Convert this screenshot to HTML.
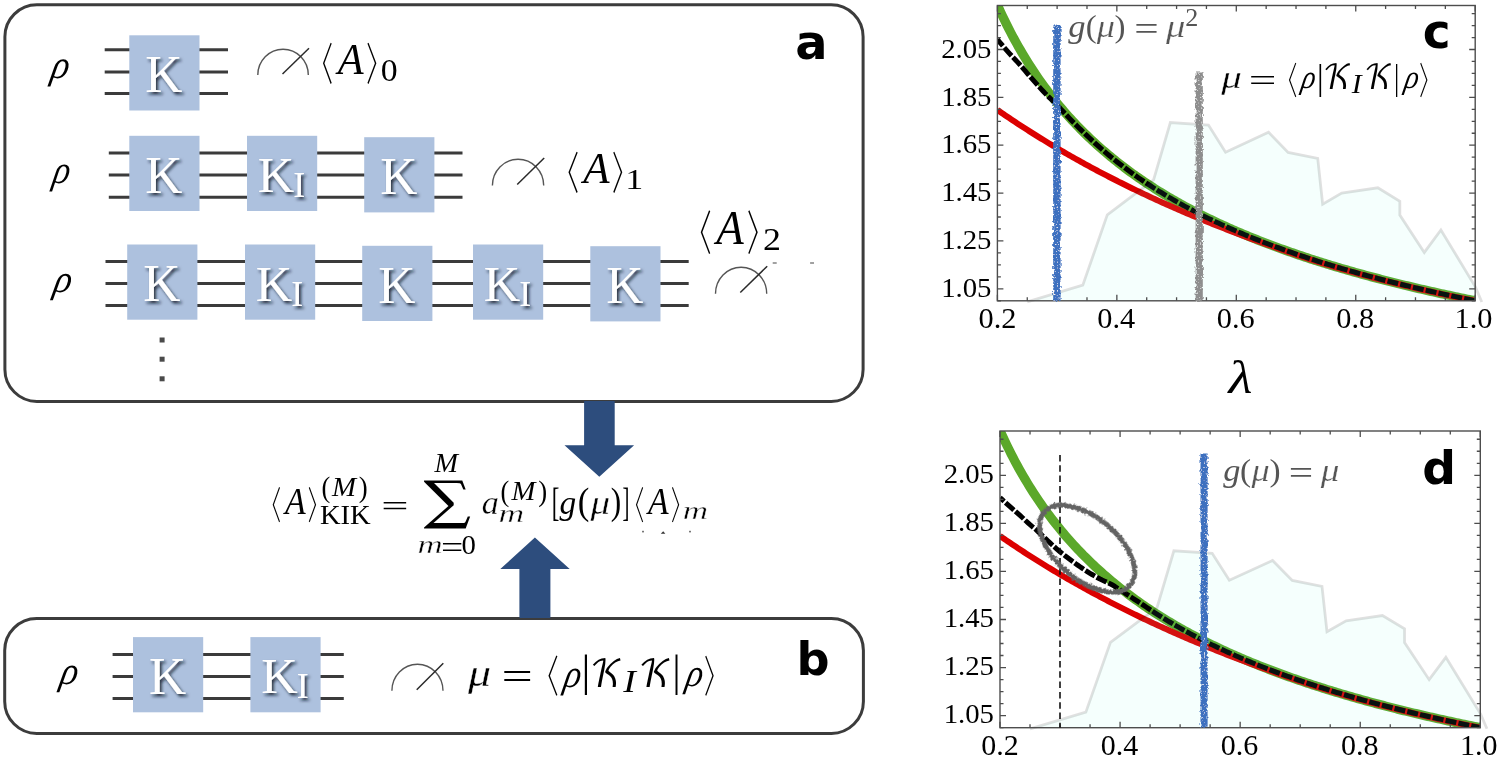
<!DOCTYPE html>
<html><head><meta charset="utf-8"><title>KIK figure</title>
<style>
html,body{margin:0;padding:0;background:#fff;}
body{width:1500px;height:758px;overflow:hidden;}
svg{display:block;}
</style></head>
<body>
<svg width="1500" height="758" viewBox="0 0 1500 758">
<defs>
<filter id="sh" x="-30%" y="-30%" width="160%" height="160%">
<feDropShadow dx="2.0" dy="2.4" stdDeviation="1.4" flood-color="#101828" flood-opacity="0.85"/>
</filter>
<filter id="rough" x="-50%" y="-2%" width="200%" height="104%">
<feTurbulence type="fractalNoise" baseFrequency="0.45 0.3" numOctaves="3" seed="3" result="n"/>
<feDisplacementMap in="SourceGraphic" in2="n" scale="4.5" xChannelSelector="R" yChannelSelector="G" result="d"/>
<feTurbulence type="fractalNoise" baseFrequency="0.7" numOctaves="1" seed="11" result="n2"/>
<feColorMatrix in="n2" type="matrix" values="0 0 0 0 1  0 0 0 0 1  0 0 0 0 1  5 0 0 0 -3.1" result="m"/>
<feComposite in="m" in2="d" operator="in" result="spots"/>
<feMerge><feMergeNode in="d"/><feMergeNode in="spots"/></feMerge>
</filter>
<filter id="rough2" x="-10%" y="-10%" width="120%" height="120%">
<feTurbulence type="fractalNoise" baseFrequency="0.5" numOctaves="3" seed="5"/>
<feDisplacementMap in="SourceGraphic" scale="4" xChannelSelector="R" yChannelSelector="G"/>
</filter>
<clipPath id="clipc"><rect x="997.4" y="5.5" width="477.8" height="295.3"/></clipPath>
<clipPath id="clipd"><rect x="1000" y="431" width="480.4" height="296.7"/></clipPath>
</defs>
<rect width="1500" height="758" fill="#fff"/>
<rect x="4.9" y="4.7" width="858.20" height="396.70" rx="32" ry="32" fill="none" stroke="#3c3c3c" stroke-width="3.0"/>
<rect x="4.7" y="618.5" width="858.70" height="114.90" rx="32" ry="32" fill="none" stroke="#3c3c3c" stroke-width="3.0"/>
<line x1="104.7" y1="49.7" x2="228" y2="49.7" stroke="#3b3b3b" stroke-width="3.0"/>
<line x1="104.7" y1="71.9" x2="228" y2="71.9" stroke="#3b3b3b" stroke-width="3.0"/>
<line x1="104.7" y1="93.5" x2="228" y2="93.5" stroke="#3b3b3b" stroke-width="3.0"/>
<line x1="108.8" y1="153.0" x2="462.5" y2="153.0" stroke="#3b3b3b" stroke-width="3.0"/>
<line x1="108.8" y1="174.9" x2="462.5" y2="174.9" stroke="#3b3b3b" stroke-width="3.0"/>
<line x1="108.8" y1="197.2" x2="462.5" y2="197.2" stroke="#3b3b3b" stroke-width="3.0"/>
<line x1="105.5" y1="261.5" x2="688.7" y2="261.5" stroke="#3b3b3b" stroke-width="3.0"/>
<line x1="105.5" y1="283.5" x2="688.7" y2="283.5" stroke="#3b3b3b" stroke-width="3.0"/>
<line x1="105.5" y1="305.5" x2="688.7" y2="305.5" stroke="#3b3b3b" stroke-width="3.0"/>
<line x1="112.6" y1="654.4" x2="343.8" y2="654.4" stroke="#3b3b3b" stroke-width="3.0"/>
<line x1="112.6" y1="676.4" x2="343.8" y2="676.4" stroke="#3b3b3b" stroke-width="3.0"/>
<line x1="112.6" y1="698.5" x2="343.8" y2="698.5" stroke="#3b3b3b" stroke-width="3.0"/>
<rect x="129.3" y="35.3" width="70.2" height="75.2" fill="#adc1de"/>
<rect x="129.3" y="135.8" width="70.2" height="75.2" fill="#adc1de"/>
<rect x="364.2" y="137.2" width="70.2" height="75.2" fill="#adc1de"/>
<rect x="127.2" y="244.5" width="70.2" height="75.2" fill="#adc1de"/>
<rect x="362.2" y="245.8" width="70.2" height="75.2" fill="#adc1de"/>
<rect x="590.3" y="246.2" width="70.2" height="75.2" fill="#adc1de"/>
<rect x="133" y="637.1" width="70.2" height="75.2" fill="#adc1de"/>
<rect x="247" y="135.8" width="70.2" height="75.2" fill="#adc1de"/>
<rect x="245" y="244.5" width="70.2" height="75.2" fill="#adc1de"/>
<rect x="473" y="244.5" width="70.2" height="75.2" fill="#adc1de"/>
<rect x="250.4" y="637.1" width="70.2" height="75.2" fill="#adc1de"/>
<path d="M257.8,75 A25.25,25.80 0 0 1 308.3,75" fill="none" stroke="#555" stroke-width="1.4"/>
<line x1="282.5" y1="74" x2="309" y2="48.3" stroke="#2a2a2a" stroke-width="1.5"/>
<path d="M492.4,185.5 A25.65,26.30 0 0 1 543.7,185.5" fill="none" stroke="#555" stroke-width="1.4"/>
<line x1="517.2" y1="184.5" x2="544.2" y2="158" stroke="#2a2a2a" stroke-width="1.5"/>
<path d="M715.5,293.7 A25.60,26.50 0 0 1 766.7,293.7" fill="none" stroke="#555" stroke-width="1.4"/>
<line x1="740.3" y1="292.5" x2="767.2" y2="266.2" stroke="#2a2a2a" stroke-width="1.5"/>
<path d="M391.9,690.8 A25.55,26.60 0 0 1 443,690.8" fill="none" stroke="#555" stroke-width="1.4"/>
<line x1="416.7" y1="689.7" x2="443.3" y2="663.3" stroke="#2a2a2a" stroke-width="1.5"/>
<rect x="159.6" y="337.5" width="5" height="5" fill="#4a4a4a"/>
<rect x="159.6" y="356.7" width="5" height="5" fill="#4a4a4a"/>
<rect x="159.6" y="376.3" width="5" height="5" fill="#4a4a4a"/>
<polygon points="584.1,401 614.7,401 614.7,445.2 634.1,445.2 599.3,476.7 564.5,445.2 584.1,445.2" fill="#2d4d7d"/>
<polygon points="519.4,618 550.4,618 550.4,569.1 569.7,569.1 534.9,537.5 500.3,569.1 519.4,569.1" fill="#2d4d7d"/>
<rect x="772.7" y="262.2" width="4" height="1.6" fill="#8a8a8a"/>
<rect x="810.1" y="262.2" width="3.9" height="1.6" fill="#8a8a8a"/>
<rect x="642" y="530.8" width="2" height="1.6" fill="#777"/>
<polygon points="660.8,533.8 665.3,533.8 663.2,531.2" fill="#333"/>
<rect x="689" y="530.8" width="2" height="1.6" fill="#777"/>
<g clip-path="url(#clipc)">
<path d="M994.41,-1.84 L996.42,2.76 L998.42,7.24 L1000.42,11.62 L1002.43,15.89 L1004.43,20.06 L1006.43,24.13 L1008.44,28.10 L1010.44,31.99 L1012.44,35.79 L1014.45,39.50 L1016.45,43.13 L1018.45,46.69 L1020.46,50.17 L1022.46,53.58 L1024.46,56.91 L1026.47,60.18 L1028.47,63.39 L1030.47,66.53 L1032.48,69.61 L1034.48,72.63 L1036.48,75.59 L1038.49,78.50 L1040.49,81.35 L1042.49,84.15 L1044.50,86.90 L1046.50,89.60 L1048.50,92.26 L1050.51,94.86 L1052.51,97.43 L1054.51,99.94 L1056.52,102.42 L1058.52,104.85 L1060.52,107.25 L1062.53,109.60 L1064.53,111.92 L1066.53,114.20 L1068.53,116.44 L1070.54,118.65 L1072.54,120.83 L1074.54,122.97 L1076.55,125.08 L1078.55,127.16 L1080.55,129.20 L1082.56,131.22 L1084.56,133.21 L1086.56,135.16 L1088.57,137.09 L1090.57,139.00 L1092.57,140.87 L1094.58,142.72 L1096.58,144.55 L1098.58,146.35 L1100.59,148.12 L1102.59,149.87 L1104.59,151.60 L1106.60,153.31 L1108.60,154.99 L1110.60,156.65 L1112.61,158.29 L1114.61,159.91 L1116.61,161.51 L1118.62,163.09 L1120.62,164.65 L1122.62,166.19 L1124.63,167.71 L1126.63,169.21 L1128.63,170.70 L1130.64,172.17 L1132.64,173.61 L1134.64,175.05 L1136.65,176.46 L1138.65,177.86 L1140.65,179.25 L1142.66,180.61 L1144.66,181.97 L1146.66,183.30 L1148.67,184.63 L1150.67,185.93 L1152.67,187.23 L1154.68,188.51 L1156.68,189.77 L1158.68,191.03 L1160.69,192.26 L1162.69,193.49 L1164.69,194.70 L1166.70,195.90 L1168.70,197.09 L1170.70,198.27 L1172.71,199.43 L1174.71,200.58 L1176.71,201.72 L1178.72,202.85 L1180.72,203.97 L1182.72,205.07 L1184.72,206.17 L1186.73,207.25 L1188.73,208.33 L1190.73,209.39 L1192.74,210.45 L1194.74,211.49 L1196.74,212.52 L1198.75,213.55 L1200.75,214.56 L1202.75,215.57 L1204.76,216.56 L1206.76,217.55 L1208.76,218.53 L1210.77,219.50 L1212.77,220.46 L1214.77,221.41 L1216.78,222.35 L1218.78,223.29 L1220.78,224.22 L1222.79,225.14 L1224.79,226.05 L1226.79,226.95 L1228.80,227.84 L1230.80,228.73 L1232.80,229.61 L1234.81,230.48 L1236.81,231.35 L1238.81,232.21 L1240.82,233.06 L1242.82,233.90 L1244.82,234.74 L1246.83,235.57 L1248.83,236.39 L1250.83,237.21 L1252.84,238.02 L1254.84,238.82 L1256.84,239.62 L1258.85,240.41 L1260.85,241.20 L1262.85,241.98 L1264.86,242.75 L1266.86,243.52 L1268.86,244.28 L1270.87,245.03 L1272.87,245.78 L1274.87,246.52 L1276.88,247.26 L1278.88,247.99 L1280.88,248.72 L1282.89,249.44 L1284.89,250.16 L1286.89,250.87 L1288.90,251.58 L1290.90,252.28 L1292.90,252.97 L1294.91,253.66 L1296.91,254.35 L1298.91,255.03 L1300.91,255.70 L1302.92,256.38 L1304.92,257.04 L1306.92,257.70 L1308.93,258.36 L1310.93,259.01 L1312.93,259.66 L1314.94,260.30 L1316.94,260.94 L1318.94,261.58 L1320.95,262.21 L1322.95,262.83 L1324.95,263.46 L1326.96,264.07 L1328.96,264.69 L1330.96,265.30 L1332.97,265.90 L1334.97,266.50 L1336.97,267.10 L1338.98,267.70 L1340.98,268.29 L1342.98,268.87 L1344.99,269.45 L1346.99,270.03 L1348.99,270.61 L1351.00,271.18 L1353.00,271.75 L1355.00,272.31 L1357.01,272.87 L1359.01,273.43 L1361.01,273.98 L1363.02,274.53 L1365.02,275.08 L1367.02,275.62 L1369.03,276.16 L1371.03,276.70 L1373.03,277.23 L1375.04,277.76 L1377.04,278.29 L1379.04,278.81 L1381.05,279.33 L1383.05,279.85 L1385.05,280.36 L1387.06,280.88 L1389.06,281.38 L1391.06,281.89 L1393.07,282.39 L1395.07,282.89 L1397.07,283.39 L1399.08,283.88 L1401.08,284.37 L1403.08,284.86 L1405.09,285.35 L1407.09,285.83 L1409.09,286.31 L1411.10,286.79 L1413.10,287.26 L1415.10,287.73 L1417.10,288.20 L1419.11,288.67 L1421.11,289.13 L1423.11,289.59 L1425.12,290.05 L1427.12,290.51 L1429.12,290.96 L1431.13,291.42 L1433.13,291.86 L1435.13,292.31 L1437.14,292.75 L1439.14,293.20 L1441.14,293.64 L1443.15,294.07 L1445.15,294.51 L1447.15,294.94 L1449.16,295.37 L1451.16,295.80 L1453.16,296.22 L1455.17,296.65 L1457.17,297.07 L1459.17,297.49 L1461.18,297.91 L1463.18,298.32 L1465.18,298.73 L1467.19,299.14 L1469.19,299.55 L1471.19,299.96 L1473.20,300.36 L1475.20,300.76" fill="none" stroke="#5ba82a" stroke-width="9.2"/>
<path d="M997.40,109.95 L999.39,111.33 L1001.38,112.70 L1003.37,114.06 L1005.36,115.41 L1007.35,116.76 L1009.35,118.10 L1011.34,119.44 L1013.33,120.76 L1015.32,122.08 L1017.31,123.39 L1019.30,124.70 L1021.29,125.99 L1023.28,127.28 L1025.27,128.57 L1027.26,129.84 L1029.25,131.11 L1031.24,132.37 L1033.23,133.63 L1035.23,134.88 L1037.22,136.12 L1039.21,137.36 L1041.20,138.59 L1043.19,139.81 L1045.18,141.02 L1047.17,142.23 L1049.16,143.44 L1051.15,144.63 L1053.14,145.82 L1055.13,147.01 L1057.12,148.18 L1059.12,149.35 L1061.11,150.52 L1063.10,151.68 L1065.09,152.83 L1067.08,153.98 L1069.07,155.12 L1071.06,156.25 L1073.05,157.38 L1075.04,158.51 L1077.03,159.62 L1079.02,160.73 L1081.01,161.84 L1083.01,162.94 L1085.00,164.03 L1086.99,165.12 L1088.98,166.21 L1090.97,167.28 L1092.96,168.36 L1094.95,169.42 L1096.94,170.48 L1098.93,171.54 L1100.92,172.59 L1102.91,173.63 L1104.90,174.67 L1106.90,175.71 L1108.89,176.74 L1110.88,177.76 L1112.87,178.78 L1114.86,179.79 L1116.85,180.80 L1118.84,181.81 L1120.83,182.80 L1122.82,183.80 L1124.81,184.79 L1126.80,185.77 L1128.80,186.75 L1130.79,187.72 L1132.78,188.69 L1134.77,189.66 L1136.76,190.62 L1138.75,191.57 L1140.74,192.52 L1142.73,193.47 L1144.72,194.41 L1146.71,195.34 L1148.70,196.27 L1150.69,197.20 L1152.68,198.12 L1154.68,199.04 L1156.67,199.96 L1158.66,200.87 L1160.65,201.77 L1162.64,202.67 L1164.63,203.57 L1166.62,204.46 L1168.61,205.35 L1170.60,206.23 L1172.59,207.11 L1174.58,207.98 L1176.58,208.86 L1178.57,209.72 L1180.56,210.59 L1182.55,211.44 L1184.54,212.30 L1186.53,213.15 L1188.52,213.99 L1190.51,214.84 L1192.50,215.68 L1194.49,216.51 L1196.48,217.34 L1198.47,218.17 L1200.46,218.99 L1202.46,219.81 L1204.45,220.62 L1206.44,221.44 L1208.43,222.24 L1210.42,223.05 L1212.41,223.85 L1214.40,224.64 L1216.39,225.43 L1218.38,226.22 L1220.37,227.01 L1222.36,227.79 L1224.36,228.57 L1226.35,229.34 L1228.34,230.11 L1230.33,230.88 L1232.32,231.64 L1234.31,232.40 L1236.30,233.16 L1238.29,233.91 L1240.28,234.66 L1242.27,235.41 L1244.26,236.15 L1246.25,236.89 L1248.25,237.63 L1250.24,238.36 L1252.23,239.09 L1254.22,239.81 L1256.21,240.53 L1258.20,241.25 L1260.19,241.97 L1262.18,242.68 L1264.17,243.39 L1266.16,244.09 L1268.15,244.80 L1270.14,245.50 L1272.13,246.22 L1274.13,246.95 L1276.12,247.68 L1278.11,248.40 L1280.10,249.12 L1282.09,249.83 L1284.08,250.54 L1286.07,251.24 L1288.06,251.94 L1290.05,252.63 L1292.04,253.32 L1294.03,254.00 L1296.02,254.67 L1298.02,255.35 L1300.01,256.01 L1302.00,256.68 L1303.99,257.33 L1305.98,257.99 L1307.97,258.63 L1309.96,259.28 L1311.95,259.92 L1313.94,260.55 L1315.93,261.18 L1317.92,261.81 L1319.91,262.43 L1321.91,263.05 L1323.90,263.66 L1325.89,264.27 L1327.88,264.87 L1329.87,265.47 L1331.86,266.07 L1333.85,266.66 L1335.84,267.25 L1337.83,267.84 L1339.82,268.42 L1341.81,269.00 L1343.81,269.57 L1345.80,270.14 L1347.79,270.71 L1349.78,271.27 L1351.77,271.83 L1353.76,272.39 L1355.75,272.94 L1357.74,273.49 L1359.73,274.03 L1361.72,274.57 L1363.71,275.11 L1365.70,275.65 L1367.70,276.18 L1369.69,276.71 L1371.68,277.23 L1373.67,277.76 L1375.66,278.27 L1377.65,278.79 L1379.64,279.30 L1381.63,279.81 L1383.62,280.32 L1385.61,280.82 L1387.60,281.32 L1389.59,281.82 L1391.59,282.31 L1393.58,282.81 L1395.57,283.29 L1397.56,283.78 L1399.55,284.26 L1401.54,284.74 L1403.53,285.23 L1405.52,285.72 L1407.51,286.20 L1409.50,286.69 L1411.49,287.17 L1413.48,287.64 L1415.47,288.12 L1417.47,288.58 L1419.46,289.05 L1421.45,289.51 L1423.44,289.97 L1425.43,290.43 L1427.42,290.89 L1429.41,291.34 L1431.40,291.78 L1433.39,292.23 L1435.38,292.67 L1437.37,293.10 L1439.37,293.54 L1441.36,293.97 L1443.35,294.40 L1445.34,294.82 L1447.33,295.24 L1449.32,295.66 L1451.31,296.07 L1453.30,296.48 L1455.29,296.89 L1457.28,297.29 L1459.27,297.69 L1461.26,298.09 L1463.26,298.48 L1465.25,298.87 L1467.24,299.26 L1469.23,299.64 L1471.22,300.02 L1473.21,300.39 L1475.20,300.76" fill="none" stroke="#dc0000" stroke-width="6"/>
<path d="M997.40,39.45 L999.39,41.84 L1001.38,44.18 L1003.37,46.49 L1005.36,48.77 L1007.35,51.05 L1009.35,53.30 L1011.34,55.48 L1013.33,57.61 L1015.32,59.73 L1017.31,61.86 L1019.30,64.04 L1021.29,66.28 L1023.28,68.59 L1025.27,70.92 L1027.26,73.26 L1029.25,75.59 L1031.24,77.90 L1033.23,80.18 L1035.23,82.43 L1037.22,84.66 L1039.21,86.88 L1041.20,89.07 L1043.19,91.22 L1045.18,93.34 L1047.17,95.40 L1049.16,97.37 L1051.15,99.22 L1053.14,101.03 L1055.13,102.93 L1057.12,105.02 L1059.12,107.23 L1061.11,109.41 L1063.10,111.56 L1065.09,113.69 L1067.08,115.79 L1069.07,117.86 L1071.06,119.92 L1073.05,121.95 L1075.04,123.96 L1077.03,125.95 L1079.02,127.92 L1081.01,129.88 L1083.01,131.81 L1085.00,133.73 L1086.99,135.63 L1088.98,137.51 L1090.97,139.38 L1092.96,141.23 L1094.95,143.07 L1096.94,144.87 L1098.93,146.66 L1100.92,148.42 L1102.91,150.16 L1104.90,151.87 L1106.90,153.56 L1108.89,155.23 L1110.88,156.88 L1112.87,158.51 L1114.86,160.11 L1116.85,161.70 L1118.84,163.27 L1120.83,164.81 L1122.82,166.34 L1124.81,167.85 L1126.80,169.34 L1128.80,170.82 L1130.79,172.27 L1132.78,173.71 L1134.77,175.14 L1136.76,176.54 L1138.75,177.93 L1140.74,179.31 L1142.73,180.67 L1144.72,182.01 L1146.71,183.34 L1148.70,184.65 L1150.69,185.95 L1152.68,187.24 L1154.68,188.51 L1156.67,189.77 L1158.66,191.01 L1160.65,192.24 L1162.64,193.46 L1164.63,194.67 L1166.62,195.86 L1168.61,197.04 L1170.60,198.21 L1172.59,199.36 L1174.58,200.51 L1176.58,201.64 L1178.57,202.77 L1180.56,203.88 L1182.55,204.98 L1184.54,206.07 L1186.53,207.15 L1188.52,208.22 L1190.51,209.27 L1192.50,210.32 L1194.49,211.36 L1196.48,212.39 L1198.47,213.41 L1200.46,214.42 L1202.46,215.42 L1204.45,216.41 L1206.44,217.39 L1208.43,218.37 L1210.42,219.33 L1212.41,220.29 L1214.40,221.23 L1216.39,222.17 L1218.38,223.10 L1220.37,224.03 L1222.36,224.94 L1224.36,225.85 L1226.35,226.75 L1228.34,227.64 L1230.33,228.52 L1232.32,229.40 L1234.31,230.27 L1236.30,231.13 L1238.29,231.98 L1240.28,232.83 L1242.27,233.67 L1244.26,234.51 L1246.25,235.33 L1248.25,236.15 L1250.24,236.97 L1252.23,237.77 L1254.22,238.58 L1256.21,239.37 L1258.20,240.16 L1260.19,240.94 L1262.18,241.72 L1264.17,242.49 L1266.16,243.25 L1268.15,244.01 L1270.14,244.76 L1272.13,245.51 L1274.13,246.25 L1276.12,246.98 L1278.11,247.71 L1280.10,248.44 L1282.09,249.16 L1284.08,249.87 L1286.07,250.58 L1288.06,251.28 L1290.05,251.98 L1292.04,252.67 L1294.03,253.36 L1296.02,254.05 L1298.02,254.73 L1300.01,255.40 L1302.00,256.07 L1303.99,256.73 L1305.98,257.39 L1307.97,258.05 L1309.96,258.70 L1311.95,259.34 L1313.94,259.99 L1315.93,260.62 L1317.92,261.26 L1319.91,261.88 L1321.91,262.51 L1323.90,263.13 L1325.89,263.75 L1327.88,264.36 L1329.87,264.97 L1331.86,265.57 L1333.85,266.17 L1335.84,266.77 L1337.83,267.36 L1339.82,267.95 L1341.81,268.53 L1343.81,269.11 L1345.80,269.69 L1347.79,270.26 L1349.78,270.83 L1351.77,271.40 L1353.76,271.96 L1355.75,272.52 L1357.74,273.08 L1359.73,273.63 L1361.72,274.18 L1363.71,274.72 L1365.70,275.26 L1367.70,275.80 L1369.69,276.34 L1371.68,276.87 L1373.67,277.40 L1375.66,277.92 L1377.65,278.45 L1379.64,278.97 L1381.63,279.48 L1383.62,280.00 L1385.61,280.51 L1387.60,281.02 L1389.59,281.52 L1391.59,282.02 L1393.58,282.52 L1395.57,283.02 L1397.56,283.51 L1399.55,284.00 L1401.54,284.49 L1403.53,284.97 L1405.52,285.45 L1407.51,285.93 L1409.50,286.41 L1411.49,286.88 L1413.48,287.35 L1415.47,287.82 L1417.47,288.29 L1419.46,288.75 L1421.45,289.21 L1423.44,289.67 L1425.43,290.12 L1427.42,290.58 L1429.41,291.03 L1431.40,291.48 L1433.39,291.92 L1435.38,292.37 L1437.37,292.81 L1439.37,293.25 L1441.36,293.68 L1443.35,294.12 L1445.34,294.55 L1447.33,294.98 L1449.32,295.41 L1451.31,295.83 L1453.30,296.25 L1455.29,296.67 L1457.28,297.09 L1459.27,297.51 L1461.26,297.92 L1463.26,298.34 L1465.25,298.75 L1467.24,299.15 L1469.23,299.56 L1471.22,299.96 L1473.21,300.37 L1475.20,300.76" fill="none" stroke="#000" stroke-width="5.0" stroke-dasharray="11 2.1" stroke-dashoffset="2.5"/>
<polygon points="1027.26,301.96 1082.81,285.21 1107.29,214.86 1153.58,179.92 1170.36,122.49 1208.47,125.12 1225.55,152.16 1268.55,132.30 1288.14,152.40 1317.71,158.38 1322.66,204.09 1341.71,193.08 1377.85,187.82 1399.83,201.22 1399.83,215.10 1424.31,252.43 1440.92,229.93 1475.50,287.12 1481.77,301.96" fill="rgb(112,255,226)" fill-opacity="0.07" stroke="none"/>
</g>
<polyline points="1027.26,301.96 1082.81,285.21 1107.29,214.86 1153.58,179.92 1170.36,122.49 1208.47,125.12 1225.55,152.16 1268.55,132.30 1288.14,152.40 1317.71,158.38 1322.66,204.09 1341.71,193.08 1377.85,187.82 1399.83,201.22 1399.83,215.10 1424.31,252.43 1440.92,229.93 1475.50,287.12 1481.77,301.96" fill="none" stroke="#000" stroke-opacity="0.12" stroke-width="2.8" stroke-linejoin="miter"/>
<rect x="997.4" y="5.5" width="477.80000000000007" height="295.3" fill="none" stroke="#4d4d4d" stroke-width="1.4"/>
<path d="M997.40,300.8v-6M997.40,5.5v6M1027.26,300.8v-3.5M1027.26,5.5v3.5M1057.12,300.8v-3.5M1057.12,5.5v3.5M1086.99,300.8v-3.5M1086.99,5.5v3.5M1116.85,300.8v-6M1116.85,5.5v6M1146.71,300.8v-3.5M1146.71,5.5v3.5M1176.58,300.8v-3.5M1176.58,5.5v3.5M1206.44,300.8v-3.5M1206.44,5.5v3.5M1236.30,300.8v-6M1236.30,5.5v6M1266.16,300.8v-3.5M1266.16,5.5v3.5M1296.02,300.8v-3.5M1296.02,5.5v3.5M1325.89,300.8v-3.5M1325.89,5.5v3.5M1355.75,300.8v-6M1355.75,5.5v6M1385.61,300.8v-3.5M1385.61,5.5v3.5M1415.48,300.8v-3.5M1415.48,5.5v3.5M1445.34,300.8v-3.5M1445.34,5.5v3.5M1475.20,300.8v-6M1475.20,5.5v6M997.4,300.76h3.5M1475.2,300.76h-3.5M997.4,288.80h6M1475.2,288.80h-6M997.4,276.83h3.5M1475.2,276.83h-3.5M997.4,264.87h3.5M1475.2,264.87h-3.5M997.4,252.90h3.5M1475.2,252.90h-3.5M997.4,240.94h6M1475.2,240.94h-6M997.4,228.97h3.5M1475.2,228.97h-3.5M997.4,217.01h3.5M1475.2,217.01h-3.5M997.4,205.04h3.5M1475.2,205.04h-3.5M997.4,193.08h6M1475.2,193.08h-6M997.4,181.11h3.5M1475.2,181.11h-3.5M997.4,169.15h3.5M1475.2,169.15h-3.5M997.4,157.18h3.5M1475.2,157.18h-3.5M997.4,145.22h6M1475.2,145.22h-6M997.4,133.25h3.5M1475.2,133.25h-3.5M997.4,121.29h3.5M1475.2,121.29h-3.5M997.4,109.32h3.5M1475.2,109.32h-3.5M997.4,97.36h6M1475.2,97.36h-6M997.4,85.39h3.5M1475.2,85.39h-3.5M997.4,73.43h3.5M1475.2,73.43h-3.5M997.4,61.46h3.5M1475.2,61.46h-3.5M997.4,49.50h6M1475.2,49.50h-6M997.4,37.53h3.5M1475.2,37.53h-3.5M997.4,25.57h3.5M1475.2,25.57h-3.5M997.4,13.60h3.5M1475.2,13.60h-3.5" stroke="#4d4d4d" stroke-width="1.3" fill="none"/>
<g clip-path="url(#clipd)">
<path d="M997.00,423.74 L999.01,428.36 L1001.03,432.87 L1003.04,437.26 L1005.05,441.55 L1007.07,445.73 L1009.08,449.82 L1011.09,453.81 L1013.11,457.72 L1015.12,461.53 L1017.14,465.26 L1019.15,468.91 L1021.16,472.48 L1023.18,475.97 L1025.19,479.39 L1027.21,482.75 L1029.22,486.03 L1031.23,489.25 L1033.25,492.40 L1035.26,495.49 L1037.27,498.52 L1039.29,501.50 L1041.30,504.42 L1043.32,507.28 L1045.33,510.10 L1047.34,512.86 L1049.36,515.57 L1051.37,518.24 L1053.39,520.85 L1055.40,523.43 L1057.41,525.95 L1059.43,528.44 L1061.44,530.89 L1063.45,533.29 L1065.47,535.65 L1067.48,537.98 L1069.50,540.27 L1071.51,542.52 L1073.52,544.74 L1075.54,546.93 L1077.55,549.08 L1079.57,551.20 L1081.58,553.28 L1083.59,555.34 L1085.61,557.36 L1087.62,559.36 L1089.63,561.32 L1091.65,563.26 L1093.66,565.17 L1095.68,567.06 L1097.69,568.91 L1099.70,570.75 L1101.72,572.55 L1103.73,574.34 L1105.75,576.09 L1107.76,577.83 L1109.77,579.54 L1111.79,581.23 L1113.80,582.90 L1115.81,584.55 L1117.83,586.17 L1119.84,587.78 L1121.86,589.36 L1123.87,590.93 L1125.88,592.48 L1127.90,594.00 L1129.91,595.51 L1131.93,597.00 L1133.94,598.48 L1135.95,599.93 L1137.97,601.37 L1139.98,602.79 L1141.99,604.20 L1144.01,605.59 L1146.02,606.96 L1148.04,608.32 L1150.05,609.66 L1152.06,610.99 L1154.08,612.31 L1156.09,613.60 L1158.11,614.89 L1160.12,616.16 L1162.13,617.42 L1164.15,618.66 L1166.16,619.89 L1168.17,621.11 L1170.19,622.31 L1172.20,623.51 L1174.22,624.69 L1176.23,625.86 L1178.24,627.01 L1180.26,628.16 L1182.27,629.29 L1184.29,630.41 L1186.30,631.52 L1188.31,632.62 L1190.33,633.71 L1192.34,634.79 L1194.35,635.86 L1196.37,636.92 L1198.38,637.97 L1200.40,639.01 L1202.41,640.03 L1204.42,641.05 L1206.44,642.06 L1208.45,643.06 L1210.47,644.05 L1212.48,645.04 L1214.49,646.01 L1216.51,646.97 L1218.52,647.93 L1220.53,648.88 L1222.55,649.82 L1224.56,650.75 L1226.58,651.67 L1228.59,652.58 L1230.60,653.49 L1232.62,654.39 L1234.63,655.28 L1236.65,656.16 L1238.66,657.04 L1240.67,657.91 L1242.69,658.77 L1244.70,659.63 L1246.71,660.47 L1248.73,661.31 L1250.74,662.15 L1252.76,662.97 L1254.77,663.79 L1256.78,664.61 L1258.80,665.42 L1260.81,666.22 L1262.83,667.01 L1264.84,667.80 L1266.85,668.58 L1268.87,669.36 L1270.88,670.13 L1272.89,670.89 L1274.91,671.65 L1276.92,672.40 L1278.94,673.15 L1280.95,673.89 L1282.96,674.62 L1284.98,675.35 L1286.99,676.08 L1289.01,676.80 L1291.02,677.51 L1293.03,678.22 L1295.05,678.92 L1297.06,679.62 L1299.07,680.32 L1301.09,681.00 L1303.10,681.69 L1305.12,682.37 L1307.13,683.04 L1309.14,683.71 L1311.16,684.37 L1313.17,685.03 L1315.18,685.69 L1317.20,686.34 L1319.21,686.99 L1321.23,687.63 L1323.24,688.26 L1325.25,688.90 L1327.27,689.53 L1329.28,690.15 L1331.30,690.77 L1333.31,691.39 L1335.32,692.00 L1337.34,692.61 L1339.35,693.21 L1341.36,693.81 L1343.38,694.41 L1345.39,695.00 L1347.41,695.59 L1349.42,696.17 L1351.43,696.75 L1353.45,697.33 L1355.46,697.91 L1357.48,698.47 L1359.49,699.04 L1361.50,699.60 L1363.52,700.16 L1365.53,700.72 L1367.54,701.27 L1369.56,701.82 L1371.57,702.37 L1373.59,702.91 L1375.60,703.45 L1377.61,703.98 L1379.63,704.51 L1381.64,705.04 L1383.66,705.57 L1385.67,706.09 L1387.68,706.61 L1389.70,707.13 L1391.71,707.64 L1393.72,708.15 L1395.74,708.66 L1397.75,709.17 L1399.77,709.67 L1401.78,710.17 L1403.79,710.66 L1405.81,711.15 L1407.82,711.65 L1409.84,712.13 L1411.85,712.62 L1413.86,713.10 L1415.88,713.58 L1417.89,714.05 L1419.90,714.53 L1421.92,715.00 L1423.93,715.47 L1425.95,715.93 L1427.96,716.40 L1429.97,716.86 L1431.99,717.32 L1434.00,717.77 L1436.02,718.23 L1438.03,718.68 L1440.04,719.13 L1442.06,719.57 L1444.07,720.02 L1446.08,720.46 L1448.10,720.90 L1450.11,721.33 L1452.13,721.77 L1454.14,722.20 L1456.15,722.63 L1458.17,723.06 L1460.18,723.48 L1462.20,723.90 L1464.21,724.32 L1466.22,724.74 L1468.24,725.16 L1470.25,725.57 L1472.26,725.99 L1474.28,726.40 L1476.29,726.80 L1478.31,727.21 L1480.32,727.62" fill="none" stroke="#5ba82a" stroke-width="9.2"/>
<path d="M1000.00,536.00 L1002.00,537.38 L1004.00,538.76 L1006.00,540.13 L1008.01,541.49 L1010.01,542.84 L1012.01,544.19 L1014.01,545.53 L1016.01,546.86 L1018.01,548.18 L1020.01,549.50 L1022.01,550.81 L1024.02,552.11 L1026.02,553.41 L1028.02,554.70 L1030.02,555.98 L1032.02,557.25 L1034.02,558.52 L1036.02,559.78 L1038.03,561.04 L1040.03,562.28 L1042.03,563.52 L1044.03,564.76 L1046.03,565.99 L1048.03,567.21 L1050.03,568.42 L1052.03,569.63 L1054.04,570.83 L1056.04,572.02 L1058.04,573.21 L1060.04,574.40 L1062.04,575.57 L1064.04,576.74 L1066.04,577.91 L1068.05,579.06 L1070.05,580.22 L1072.05,581.36 L1074.05,582.50 L1076.05,583.63 L1078.05,584.76 L1080.05,585.88 L1082.05,587.00 L1084.06,588.11 L1086.06,589.21 L1088.06,590.31 L1090.06,591.41 L1092.06,592.49 L1094.06,593.58 L1096.06,594.65 L1098.07,595.72 L1100.07,596.79 L1102.07,597.85 L1104.07,598.90 L1106.07,599.95 L1108.07,601.00 L1110.07,602.04 L1112.07,603.07 L1114.08,604.10 L1116.08,605.12 L1118.08,606.14 L1120.08,607.15 L1122.08,608.16 L1124.08,609.16 L1126.08,610.16 L1128.09,611.15 L1130.09,612.14 L1132.09,613.12 L1134.09,614.10 L1136.09,615.07 L1138.09,616.04 L1140.09,617.00 L1142.09,617.96 L1144.10,618.92 L1146.10,619.87 L1148.10,620.81 L1150.10,621.75 L1152.10,622.69 L1154.10,623.62 L1156.10,624.55 L1158.11,625.47 L1160.11,626.39 L1162.11,627.30 L1164.11,628.21 L1166.11,629.11 L1168.11,630.01 L1170.11,630.91 L1172.11,631.80 L1174.12,632.69 L1176.12,633.57 L1178.12,634.45 L1180.12,635.32 L1182.12,636.19 L1184.12,637.06 L1186.12,637.92 L1188.13,638.78 L1190.13,639.63 L1192.13,640.48 L1194.13,641.33 L1196.13,642.17 L1198.13,643.01 L1200.13,643.84 L1202.13,644.67 L1204.14,645.50 L1206.14,646.32 L1208.14,647.14 L1210.14,647.95 L1212.14,648.76 L1214.14,649.57 L1216.14,650.37 L1218.15,651.17 L1220.15,651.97 L1222.15,652.76 L1224.15,653.55 L1226.15,654.34 L1228.15,655.12 L1230.15,655.89 L1232.15,656.67 L1234.16,657.44 L1236.16,658.20 L1238.16,658.97 L1240.16,659.73 L1242.16,660.48 L1244.16,661.24 L1246.16,661.99 L1248.17,662.73 L1250.17,663.47 L1252.17,664.21 L1254.17,664.95 L1256.17,665.68 L1258.17,666.41 L1260.17,667.13 L1262.17,667.85 L1264.18,668.57 L1266.18,669.29 L1268.18,670.00 L1270.18,670.71 L1272.18,671.41 L1274.18,672.11 L1276.18,672.84 L1278.19,673.58 L1280.19,674.31 L1282.19,675.04 L1284.19,675.76 L1286.19,676.47 L1288.19,677.18 L1290.19,677.89 L1292.19,678.59 L1294.20,679.28 L1296.20,679.97 L1298.20,680.65 L1300.20,681.33 L1302.20,682.01 L1304.20,682.68 L1306.20,683.34 L1308.21,684.00 L1310.21,684.66 L1312.21,685.31 L1314.21,685.95 L1316.21,686.60 L1318.21,687.23 L1320.21,687.87 L1322.21,688.49 L1324.22,689.12 L1326.22,689.74 L1328.22,690.35 L1330.22,690.97 L1332.22,691.57 L1334.22,692.18 L1336.22,692.78 L1338.23,693.37 L1340.23,693.96 L1342.23,694.55 L1344.23,695.14 L1346.23,695.72 L1348.23,696.29 L1350.23,696.86 L1352.23,697.43 L1354.24,698.00 L1356.24,698.56 L1358.24,699.12 L1360.24,699.67 L1362.24,700.22 L1364.24,700.77 L1366.24,701.31 L1368.25,701.86 L1370.25,702.39 L1372.25,702.93 L1374.25,703.46 L1376.25,703.98 L1378.25,704.51 L1380.25,705.03 L1382.25,705.55 L1384.26,706.06 L1386.26,706.57 L1388.26,707.08 L1390.26,707.59 L1392.26,708.09 L1394.26,708.59 L1396.26,709.09 L1398.27,709.58 L1400.27,710.07 L1402.27,710.56 L1404.27,711.04 L1406.27,711.53 L1408.27,712.02 L1410.27,712.51 L1412.27,712.99 L1414.28,713.48 L1416.28,713.96 L1418.28,714.44 L1420.28,714.91 L1422.28,715.38 L1424.28,715.85 L1426.28,716.32 L1428.29,716.78 L1430.29,717.24 L1432.29,717.69 L1434.29,718.15 L1436.29,718.60 L1438.29,719.04 L1440.29,719.48 L1442.29,719.92 L1444.30,720.36 L1446.30,720.79 L1448.30,721.22 L1450.30,721.65 L1452.30,722.07 L1454.30,722.49 L1456.30,722.90 L1458.31,723.31 L1460.31,723.72 L1462.31,724.13 L1464.31,724.53 L1466.31,724.93 L1468.31,725.32 L1470.31,725.71 L1472.31,726.10 L1474.32,726.48 L1476.32,726.86 L1478.32,727.24 L1480.32,727.62" fill="none" stroke="#dc0000" stroke-width="6"/>
<path d="M1000.00,497.65 L1002.00,499.45 L1004.00,501.25 L1006.00,503.03 L1008.01,504.81 L1010.01,506.58 L1012.01,508.35 L1014.01,510.12 L1016.01,511.89 L1018.01,513.67 L1020.01,515.45 L1022.01,517.28 L1024.02,519.16 L1026.02,521.05 L1028.02,522.91 L1030.02,524.69 L1032.02,526.35 L1034.02,527.99 L1036.02,529.69 L1038.03,531.55 L1040.03,533.44 L1042.03,535.34 L1044.03,537.24 L1046.03,539.14 L1048.03,541.03 L1050.03,542.89 L1052.03,544.74 L1054.04,546.55 L1056.04,548.32 L1058.04,550.04 L1060.04,551.72 L1062.04,553.34 L1064.04,554.95 L1066.04,556.52 L1068.05,558.07 L1070.05,559.59 L1072.05,561.09 L1074.05,562.55 L1076.05,563.99 L1078.05,565.41 L1080.05,566.79 L1082.05,568.15 L1084.06,569.48 L1086.06,570.78 L1088.06,572.06 L1090.06,573.30 L1092.06,574.51 L1094.06,575.70 L1096.06,576.85 L1098.07,577.98 L1100.07,579.07 L1102.07,580.06 L1104.07,580.97 L1106.07,581.86 L1108.07,582.75 L1110.07,583.69 L1112.07,584.73 L1114.08,585.90 L1116.08,587.22 L1118.08,588.55 L1120.08,589.88 L1122.08,591.20 L1124.08,592.51 L1126.08,593.82 L1128.09,595.13 L1130.09,596.44 L1132.09,597.74 L1134.09,599.05 L1136.09,600.36 L1138.09,601.67 L1140.09,602.99 L1142.09,604.32 L1144.10,605.65 L1146.10,606.99 L1148.10,608.34 L1150.10,609.67 L1152.10,611.00 L1154.10,612.30 L1156.10,613.59 L1158.11,614.87 L1160.11,616.14 L1162.11,617.39 L1164.11,618.63 L1166.11,619.85 L1168.11,621.06 L1170.11,622.26 L1172.11,623.45 L1174.12,624.63 L1176.12,625.79 L1178.12,626.94 L1180.12,628.08 L1182.12,629.21 L1184.12,630.32 L1186.12,631.43 L1188.13,632.52 L1190.13,633.61 L1192.13,634.68 L1194.13,635.74 L1196.13,636.79 L1198.13,637.84 L1200.13,638.87 L1202.13,639.89 L1204.14,640.91 L1206.14,641.91 L1208.14,642.91 L1210.14,643.89 L1212.14,644.87 L1214.14,645.84 L1216.14,646.80 L1218.15,647.75 L1220.15,648.70 L1222.15,649.63 L1224.15,650.56 L1226.15,651.48 L1228.15,652.39 L1230.15,653.29 L1232.15,654.18 L1234.16,655.07 L1236.16,655.95 L1238.16,656.82 L1240.16,657.69 L1242.16,658.55 L1244.16,659.40 L1246.16,660.24 L1248.17,661.08 L1250.17,661.91 L1252.17,662.73 L1254.17,663.55 L1256.17,664.36 L1258.17,665.17 L1260.17,665.96 L1262.17,666.75 L1264.18,667.54 L1266.18,668.32 L1268.18,669.09 L1270.18,669.86 L1272.18,670.62 L1274.18,671.38 L1276.18,672.13 L1278.19,672.87 L1280.19,673.61 L1282.19,674.34 L1284.19,675.07 L1286.19,675.79 L1288.19,676.51 L1290.19,677.22 L1292.19,677.93 L1294.20,678.63 L1296.20,679.32 L1298.20,680.02 L1300.20,680.70 L1302.20,681.38 L1304.20,682.06 L1306.20,682.73 L1308.21,683.40 L1310.21,684.06 L1312.21,684.72 L1314.21,685.37 L1316.21,686.02 L1318.21,686.67 L1320.21,687.31 L1322.21,687.94 L1324.22,688.57 L1326.22,689.20 L1328.22,689.82 L1330.22,690.44 L1332.22,691.06 L1334.22,691.67 L1336.22,692.27 L1338.23,692.87 L1340.23,693.47 L1342.23,694.07 L1344.23,694.66 L1346.23,695.25 L1348.23,695.83 L1350.23,696.41 L1352.23,696.98 L1354.24,697.56 L1356.24,698.12 L1358.24,698.69 L1360.24,699.25 L1362.24,699.81 L1364.24,700.36 L1366.24,700.91 L1368.25,701.46 L1370.25,702.01 L1372.25,702.55 L1374.25,703.09 L1376.25,703.62 L1378.25,704.15 L1380.25,704.68 L1382.25,705.20 L1384.26,705.73 L1386.26,706.24 L1388.26,706.76 L1390.26,707.27 L1392.26,707.78 L1394.26,708.29 L1396.26,708.79 L1398.27,709.29 L1400.27,709.79 L1402.27,710.29 L1404.27,710.78 L1406.27,711.27 L1408.27,711.75 L1410.27,712.24 L1412.27,712.72 L1414.28,713.20 L1416.28,713.67 L1418.28,714.15 L1420.28,714.62 L1422.28,715.08 L1424.28,715.55 L1426.28,716.01 L1428.29,716.47 L1430.29,716.93 L1432.29,717.38 L1434.29,717.84 L1436.29,718.29 L1438.29,718.74 L1440.29,719.18 L1442.29,719.62 L1444.30,720.06 L1446.30,720.50 L1448.30,720.94 L1450.30,721.37 L1452.30,721.80 L1454.30,722.23 L1456.30,722.66 L1458.31,723.08 L1460.31,723.51 L1462.31,723.93 L1464.31,724.35 L1466.31,724.76 L1468.31,725.18 L1470.31,725.59 L1472.31,726.00 L1474.32,726.40 L1476.32,726.81 L1478.32,727.21 L1480.32,727.62" fill="none" stroke="#000" stroke-width="5.0" stroke-dasharray="11 2.1" stroke-dashoffset="5.5"/>
<polygon points="1030.02,728.80 1085.86,712.18 1110.47,642.38 1157.00,607.72 1173.88,550.74 1212.18,553.35 1229.35,580.18 1272.58,560.47 1292.27,580.42 1321.99,586.35 1326.98,631.70 1346.13,620.78 1382.45,615.55 1404.55,628.85 1404.55,642.62 1429.17,679.66 1445.86,657.34 1480.62,714.08 1486.92,728.80" fill="rgb(112,255,226)" fill-opacity="0.07" stroke="none"/>
</g>
<polyline points="1030.02,728.80 1085.86,712.18 1110.47,642.38 1157.00,607.72 1173.88,550.74 1212.18,553.35 1229.35,580.18 1272.58,560.47 1292.27,580.42 1321.99,586.35 1326.98,631.70 1346.13,620.78 1382.45,615.55 1404.55,628.85 1404.55,642.62 1429.17,679.66 1445.86,657.34 1480.62,714.08 1486.92,728.80" fill="none" stroke="#000" stroke-opacity="0.12" stroke-width="2.8" stroke-linejoin="miter"/>
<rect x="1000.0" y="431.0" width="480.29999999999995" height="296.70000000000005" fill="none" stroke="#4d4d4d" stroke-width="1.4"/>
<path d="M1000.00,727.7v-6M1000.00,431.0v6M1030.02,727.7v-3.5M1030.02,431.0v3.5M1060.04,727.7v-3.5M1060.04,431.0v3.5M1090.06,727.7v-3.5M1090.06,431.0v3.5M1120.08,727.7v-6M1120.08,431.0v6M1150.10,727.7v-3.5M1150.10,431.0v3.5M1180.12,727.7v-3.5M1180.12,431.0v3.5M1210.14,727.7v-3.5M1210.14,431.0v3.5M1240.16,727.7v-6M1240.16,431.0v6M1270.18,727.7v-3.5M1270.18,431.0v3.5M1300.20,727.7v-3.5M1300.20,431.0v3.5M1330.22,727.7v-3.5M1330.22,431.0v3.5M1360.24,727.7v-6M1360.24,431.0v6M1390.26,727.7v-3.5M1390.26,431.0v3.5M1420.28,727.7v-3.5M1420.28,431.0v3.5M1450.30,727.7v-3.5M1450.30,431.0v3.5M1480.32,727.7v-6M1480.32,431.0v6M1000.0,727.62h3.5M1480.3,727.62h-3.5M1000.0,715.60h6M1480.3,715.60h-6M1000.0,703.58h3.5M1480.3,703.58h-3.5M1000.0,691.57h3.5M1480.3,691.57h-3.5M1000.0,679.55h3.5M1480.3,679.55h-3.5M1000.0,667.54h6M1480.3,667.54h-6M1000.0,655.52h3.5M1480.3,655.52h-3.5M1000.0,643.51h3.5M1480.3,643.51h-3.5M1000.0,631.50h3.5M1480.3,631.50h-3.5M1000.0,619.48h6M1480.3,619.48h-6M1000.0,607.46h3.5M1480.3,607.46h-3.5M1000.0,595.45h3.5M1480.3,595.45h-3.5M1000.0,583.43h3.5M1480.3,583.43h-3.5M1000.0,571.42h6M1480.3,571.42h-6M1000.0,559.40h3.5M1480.3,559.40h-3.5M1000.0,547.39h3.5M1480.3,547.39h-3.5M1000.0,535.38h3.5M1480.3,535.38h-3.5M1000.0,523.36h6M1480.3,523.36h-6M1000.0,511.34h3.5M1480.3,511.34h-3.5M1000.0,499.33h3.5M1480.3,499.33h-3.5M1000.0,487.31h3.5M1480.3,487.31h-3.5M1000.0,475.30h6M1480.3,475.30h-6M1000.0,463.28h3.5M1480.3,463.28h-3.5M1000.0,451.27h3.5M1480.3,451.27h-3.5M1000.0,439.25h3.5M1480.3,439.25h-3.5" stroke="#4d4d4d" stroke-width="1.3" fill="none"/>
<rect x="1053.2" y="25.5" width="7.399999999999864" height="275.3" fill="#3c70bf" filter="url(#rough)"/>
<rect x="1195.6" y="72.5" width="7.2000000000000455" height="228.3" fill="#8e8e8e" filter="url(#rough)"/>
<rect x="1200.5" y="453.5" width="7.099999999999909" height="274.20000000000005" fill="#3c70bf" filter="url(#rough)"/>
<line x1="1060" y1="455" x2="1060" y2="727.7" stroke="#111" stroke-width="1.6" stroke-dasharray="6.5 3.8"/>
<ellipse cx="1087.2" cy="548.7" rx="56.4" ry="30.9" transform="rotate(40.2 1087.2 548.7)" fill="none" stroke="#646464" stroke-width="5" filter="url(#rough2)"/>
<text transform="translate(50.12,77.83) scale(0.9091,0.9963) skewX(-12)" font-family="'Liberation Serif', 'DejaVu Serif', serif" font-size="40" fill="#000" style="font-style:italic;">ρ</text>
<text transform="translate(51.73,183.36) scale(0.8636,0.9926) skewX(-12)" font-family="'Liberation Serif', 'DejaVu Serif', serif" font-size="40" fill="#000" style="font-style:italic;">ρ</text>
<text transform="translate(52.62,292.21) scale(0.9091,0.9741) skewX(-12)" font-family="'Liberation Serif', 'DejaVu Serif', serif" font-size="40" fill="#000" style="font-style:italic;">ρ</text>
<text transform="translate(59.10,684.35) scale(0.9000,0.9815) skewX(-12)" font-family="'Liberation Serif', 'DejaVu Serif', serif" font-size="40" fill="#000" style="font-style:italic;">ρ</text>
<text transform="translate(299.80,80.39) scale(0.9200,1.1686)" font-family="'WenQuanYi Zen Hei', 'DejaVu Math TeX Gyre', sans-serif" font-size="40" fill="#000" style="">〈</text>
<text transform="translate(337.71,74.00) scale(1.0071,1.0679)" font-family="'Liberation Serif', 'DejaVu Serif', serif" font-size="42" fill="#000" style="font-style:italic;">A</text>
<text transform="translate(362.50,80.39) scale(0.9400,1.1686)" font-family="'WenQuanYi Zen Hei', 'DejaVu Math TeX Gyre', sans-serif" font-size="40" fill="#000" style="">〉</text>
<text transform="translate(380.79,80.80) scale(1.2083,1.1500)" font-family="'Liberation Serif', 'DejaVu Serif', serif" font-size="28" fill="#000" style="">0</text>
<text transform="translate(544.05,189.30) scale(0.9700,1.1657)" font-family="'WenQuanYi Zen Hei', 'DejaVu Math TeX Gyre', sans-serif" font-size="40" fill="#000" style="">〈</text>
<text transform="translate(583.35,183.30) scale(1.0250,1.0714)" font-family="'Liberation Serif', 'DejaVu Serif', serif" font-size="42" fill="#000" style="font-style:italic;">A</text>
<text transform="translate(608.25,189.30) scale(0.9500,1.1657)" font-family="'WenQuanYi Zen Hei', 'DejaVu Math TeX Gyre', sans-serif" font-size="40" fill="#000" style="">〉</text>
<text transform="translate(625.33,188.70) scale(1.2889,1.0556)" font-family="'Liberation Serif', 'DejaVu Serif', serif" font-size="28" fill="#000" style="">1</text>
<text transform="translate(675.50,249.98) scale(1.0000,1.2400)" font-family="'WenQuanYi Zen Hei', 'DejaVu Math TeX Gyre', sans-serif" font-size="40" fill="#000" style="">〈</text>
<text transform="translate(716.34,244.20) scale(1.0714,1.1750)" font-family="'Liberation Serif', 'DejaVu Serif', serif" font-size="42" fill="#000" style="font-style:italic;">A</text>
<text transform="translate(743.00,249.98) scale(1.0000,1.2400)" font-family="'WenQuanYi Zen Hei', 'DejaVu Math TeX Gyre', sans-serif" font-size="40" fill="#000" style="">〉</text>
<text transform="translate(762.92,249.70) scale(1.2818,1.0944)" font-family="'Liberation Serif', 'DejaVu Serif', serif" font-size="28" fill="#000" style="">2</text>
<text transform="translate(795.22,58.70) scale(1.0400,1.0400)" font-family="'DejaVu Sans', 'Liberation Sans', sans-serif" font-size="46" fill="#000" style="font-weight:bold;">a</text>
<text transform="translate(796.39,674.50) scale(1.0037,0.9943)" font-family="'DejaVu Sans', 'Liberation Sans', sans-serif" font-size="46" fill="#000" style="font-weight:bold;">b</text>
<text transform="translate(1422.75,47.60) scale(1.0227,1.0480)" font-family="'DejaVu Sans', 'Liberation Sans', sans-serif" font-size="46" fill="#000" style="font-weight:bold;">c</text>
<text transform="translate(1422.25,484.40) scale(1.0259,1.0057)" font-family="'DejaVu Sans', 'Liberation Sans', sans-serif" font-size="46" fill="#000" style="font-weight:bold;">d</text>
<text transform="translate(145.32,92.10) scale(0.9886,1.0114)" font-family="'Liberation Serif', 'DejaVu Serif', serif" font-size="52" fill="#fff" style="" filter="url(#sh)">K</text>
<text transform="translate(145.32,192.60) scale(0.9886,1.0114)" font-family="'Liberation Serif', 'DejaVu Serif', serif" font-size="52" fill="#fff" style="" filter="url(#sh)">K</text>
<text transform="translate(380.22,194.00) scale(0.9886,1.0114)" font-family="'Liberation Serif', 'DejaVu Serif', serif" font-size="52" fill="#fff" style="" filter="url(#sh)">K</text>
<text transform="translate(143.22,301.30) scale(0.9886,1.0114)" font-family="'Liberation Serif', 'DejaVu Serif', serif" font-size="52" fill="#fff" style="" filter="url(#sh)">K</text>
<text transform="translate(378.22,302.60) scale(0.9886,1.0114)" font-family="'Liberation Serif', 'DejaVu Serif', serif" font-size="52" fill="#fff" style="" filter="url(#sh)">K</text>
<text transform="translate(606.32,303.00) scale(0.9886,1.0114)" font-family="'Liberation Serif', 'DejaVu Serif', serif" font-size="52" fill="#fff" style="" filter="url(#sh)">K</text>
<text transform="translate(149.02,693.90) scale(0.9886,1.0114)" font-family="'Liberation Serif', 'DejaVu Serif', serif" font-size="52" fill="#fff" style="" filter="url(#sh)">K</text>
<text transform="translate(257.86,192.10) scale(0.9714,0.9857)" font-family="'Liberation Serif', 'DejaVu Serif', serif" font-size="52" fill="#fff" style="" filter="url(#sh)">K</text>
<text transform="translate(293.34,196.90) scale(1.0556,1.0409)" font-family="'Liberation Serif', 'DejaVu Serif', serif" font-size="34" fill="#fff" style="" filter="url(#sh)">I</text>
<text transform="translate(255.86,300.80) scale(0.9714,0.9857)" font-family="'Liberation Serif', 'DejaVu Serif', serif" font-size="52" fill="#fff" style="" filter="url(#sh)">K</text>
<text transform="translate(291.34,305.60) scale(1.0556,1.0409)" font-family="'Liberation Serif', 'DejaVu Serif', serif" font-size="34" fill="#fff" style="" filter="url(#sh)">I</text>
<text transform="translate(483.86,300.80) scale(0.9714,0.9857)" font-family="'Liberation Serif', 'DejaVu Serif', serif" font-size="52" fill="#fff" style="" filter="url(#sh)">K</text>
<text transform="translate(519.34,305.60) scale(1.0556,1.0409)" font-family="'Liberation Serif', 'DejaVu Serif', serif" font-size="34" fill="#fff" style="" filter="url(#sh)">I</text>
<text transform="translate(261.26,693.40) scale(0.9714,0.9857)" font-family="'Liberation Serif', 'DejaVu Serif', serif" font-size="52" fill="#fff" style="" filter="url(#sh)">K</text>
<text transform="translate(296.74,698.20) scale(1.0556,1.0409)" font-family="'Liberation Serif', 'DejaVu Serif', serif" font-size="34" fill="#fff" style="" filter="url(#sh)">I</text>
<text transform="translate(253.15,519.40) scale(0.9625,1.2481)" font-family="'WenQuanYi Zen Hei', 'DejaVu Math TeX Gyre', sans-serif" font-size="32" fill="#000" style="">〈</text>
<text transform="translate(284.99,513.90) scale(0.9957,1.1182)" font-family="'Liberation Serif', 'DejaVu Serif', serif" font-size="34" fill="#000" style="font-style:italic;">A</text>
<text transform="translate(304.85,519.40) scale(0.9625,1.2481)" font-family="'WenQuanYi Zen Hei', 'DejaVu Math TeX Gyre', sans-serif" font-size="32" fill="#000" style="">〉</text>
<text transform="translate(321.40,497.10) scale(1.1000,1.2000)" font-family="'Liberation Serif', 'DejaVu Serif', serif" font-size="24" fill="#000" style="">(</text>
<text transform="translate(332.10,496.20) scale(1.2048,1.1000)" font-family="'Liberation Serif', 'DejaVu Serif', serif" font-size="24" fill="#000" style="font-style:italic;">M</text>
<text transform="translate(358.78,497.10) scale(1.1167,1.2000)" font-family="'Liberation Serif', 'DejaVu Serif', serif" font-size="24" fill="#000" style="">)</text>
<text transform="translate(319.91,523.90) scale(1.1902,1.1333)" font-family="'Liberation Serif', 'DejaVu Serif', serif" font-size="24" fill="#000" style="">KIK</text>
<text transform="translate(381.37,515.50) scale(1.4667,0.9000)" font-family="'Liberation Serif', 'DejaVu Serif', serif" font-size="33" fill="#000" style="">=</text>
<text transform="translate(419.56,517.25) scale(1.1350,0.9113)" font-family="'DejaVu Math TeX Gyre', 'DejaVu Serif', serif" font-size="50" fill="#000" style="">∑</text>
<text transform="translate(434.40,472.10) scale(1.1762,1.1333)" font-family="'Liberation Serif', 'DejaVu Serif', serif" font-size="24" fill="#000" style="font-style:italic;">M</text>
<text transform="translate(417.55,553.40) scale(1.4533,1.0545)" font-family="'Liberation Serif', 'DejaVu Serif', serif" font-size="24" fill="#000" style="font-style:italic;" stroke="#fff" stroke-width="0.35">m</text>
<text transform="translate(441.05,557.67) scale(1.6455,1.3333)" font-family="'Liberation Serif', 'DejaVu Serif', serif" font-size="24" fill="#000" style="">=</text>
<text transform="translate(461.40,553.80) scale(1.2000,1.1133)" font-family="'Liberation Serif', 'DejaVu Serif', serif" font-size="24" fill="#000" style="">0</text>
<text transform="translate(481.69,514.10) scale(1.0067,0.9625)" font-family="'Liberation Serif', 'DejaVu Serif', serif" font-size="34" fill="#000" style="font-style:italic;" stroke="#fff" stroke-width="0.3">a</text>
<text transform="translate(500.60,501.00) scale(1.1000,1.2000)" font-family="'Liberation Serif', 'DejaVu Serif', serif" font-size="24" fill="#000" style="">(</text>
<text transform="translate(511.60,499.90) scale(1.1952,1.1200)" font-family="'Liberation Serif', 'DejaVu Serif', serif" font-size="24" fill="#000" style="font-style:italic;">M</text>
<text transform="translate(538.18,501.00) scale(1.1167,1.2000)" font-family="'Liberation Serif', 'DejaVu Serif', serif" font-size="24" fill="#000" style="">)</text>
<text transform="translate(498.62,522.30) scale(1.4800,1.0455)" font-family="'Liberation Serif', 'DejaVu Serif', serif" font-size="24" fill="#000" style="font-style:italic;" stroke="#fff" stroke-width="0.35">m</text>
<text transform="translate(551.79,515.86) scale(0.6714,1.2071)" font-family="'Liberation Serif', 'DejaVu Serif', serif" font-size="34" fill="#000" style="">[</text>
<text transform="translate(559.50,513.98) scale(0.9813,0.9739)" font-family="'Liberation Serif', 'DejaVu Serif', serif" font-size="34" fill="#000" style="font-style:italic;">g</text>
<text transform="translate(577.75,514.12) scale(1.0250,1.1400)" font-family="'Liberation Serif', 'DejaVu Serif', serif" font-size="34" fill="#000" style="">(</text>
<text transform="translate(590.50,514.01) scale(1.1500,0.9696)" font-family="'Liberation Serif', 'DejaVu Serif', serif" font-size="34" fill="#000" style="font-style:italic;" stroke="#fff" stroke-width="0.35">μ</text>
<text transform="translate(610.78,514.12) scale(0.9222,1.1400)" font-family="'Liberation Serif', 'DejaVu Serif', serif" font-size="34" fill="#000" style="">)</text>
<text transform="translate(622.49,515.86) scale(0.6125,1.2071)" font-family="'Liberation Serif', 'DejaVu Serif', serif" font-size="34" fill="#000" style="">]</text>
<text transform="translate(616.70,519.40) scale(0.9500,1.2519)" font-family="'WenQuanYi Zen Hei', 'DejaVu Math TeX Gyre', sans-serif" font-size="32" fill="#000" style="">〈</text>
<text transform="translate(648.08,513.70) scale(0.9913,1.1000)" font-family="'Liberation Serif', 'DejaVu Serif', serif" font-size="34" fill="#000" style="font-style:italic;">A</text>
<text transform="translate(668.10,519.40) scale(0.9500,1.2519)" font-family="'WenQuanYi Zen Hei', 'DejaVu Math TeX Gyre', sans-serif" font-size="32" fill="#000" style="">〉</text>
<text transform="translate(682.64,518.60) scale(1.4600,1.0364)" font-family="'Liberation Serif', 'DejaVu Serif', serif" font-size="24" fill="#000" style="font-style:italic;" stroke="#fff" stroke-width="0.35">m</text>
<text transform="translate(468.00,686.11) scale(1.1526,0.9429)" font-family="'Liberation Serif', 'DejaVu Serif', serif" font-size="40" fill="#000" style="font-style:italic;" stroke="#fff" stroke-width="0.35">μ</text>
<text transform="translate(501.42,689.80) scale(1.3895,1.0000)" font-family="'Liberation Serif', 'DejaVu Serif', serif" font-size="40" fill="#000" style="">=</text>
<text transform="translate(524.87,691.90) scale(0.9889,1.2000)" font-family="'WenQuanYi Zen Hei', 'DejaVu Math TeX Gyre', sans-serif" font-size="38" fill="#000" style="">〈</text>
<text transform="translate(562.73,686.52) scale(0.8636,0.9852) skewX(-12)" font-family="'Liberation Serif', 'DejaVu Serif', serif" font-size="40" fill="#000" style="font-style:italic;">ρ</text>
<text transform="translate(581.50,685.65) scale(1.1000,1.0944)" font-family="'Liberation Serif', 'DejaVu Serif', serif" font-size="40" fill="#000" style="">|</text>
<text transform="translate(589.91,686.90) scale(0.9300,1.0000)" font-family="'DejaVu Math TeX Gyre', 'DejaVu Serif', serif" font-size="38" fill="#000" style="">𝒦</text>
<text transform="translate(623.30,691.90) scale(1.3500,1.1000)" font-family="'Liberation Serif', 'DejaVu Serif', serif" font-size="28" fill="#000" style="font-style:italic;">I</text>
<text transform="translate(638.47,686.90) scale(0.9433,1.0000)" font-family="'DejaVu Math TeX Gyre', 'DejaVu Serif', serif" font-size="38" fill="#000" style="">𝒦</text>
<text transform="translate(672.50,685.65) scale(1.0000,1.0944)" font-family="'Liberation Serif', 'DejaVu Serif', serif" font-size="40" fill="#000" style="">|</text>
<text transform="translate(684.82,686.37) scale(0.8591,0.9667) skewX(-12)" font-family="'Liberation Serif', 'DejaVu Serif', serif" font-size="40" fill="#000" style="font-style:italic;">ρ</text>
<text transform="translate(700.48,691.91) scale(0.9444,1.1970)" font-family="'WenQuanYi Zen Hei', 'DejaVu Math TeX Gyre', sans-serif" font-size="38" fill="#000" style="">〉</text>
<text transform="translate(1221.20,88.30) scale(1.2467,0.9565)" font-family="'Liberation Serif', 'DejaVu Serif', serif" font-size="33" fill="#000" style="font-style:italic;" stroke="#fff" stroke-width="0.35">μ</text>
<text transform="translate(1248.73,90.69) scale(1.4867,0.9556)" font-family="'Liberation Serif', 'DejaVu Serif', serif" font-size="33" fill="#000" style="">=</text>
<text transform="translate(1269.45,93.65) scale(0.9625,1.2259)" font-family="'WenQuanYi Zen Hei', 'DejaVu Math TeX Gyre', sans-serif" font-size="32" fill="#000" style="">〈</text>
<text transform="translate(1300.61,88.00) scale(0.8526,1.0000) skewX(-12)" font-family="'Liberation Serif', 'DejaVu Serif', serif" font-size="33" fill="#000" style="font-style:italic;">ρ</text>
<text transform="translate(1317.10,88.65) scale(1.0000,1.0645)" font-family="'Liberation Serif', 'DejaVu Serif', serif" font-size="33" fill="#000" style="">|</text>
<text transform="translate(1322.84,89.10) scale(0.9875,1.0250)" font-family="'DejaVu Math TeX Gyre', 'DejaVu Serif', serif" font-size="32" fill="#000" style="">𝒦</text>
<text transform="translate(1351.80,93.10) scale(1.2333,1.1200)" font-family="'Liberation Serif', 'DejaVu Serif', serif" font-size="24" fill="#000" style="font-style:italic;">I</text>
<text transform="translate(1363.88,89.10) scale(0.9750,1.0250)" font-family="'DejaVu Math TeX Gyre', 'DejaVu Serif', serif" font-size="32" fill="#000" style="">𝒦</text>
<text transform="translate(1393.90,88.59) scale(0.8000,1.0581)" font-family="'Liberation Serif', 'DejaVu Serif', serif" font-size="33" fill="#000" style="">|</text>
<text transform="translate(1403.44,88.14) scale(0.8684,1.0091) skewX(-12)" font-family="'Liberation Serif', 'DejaVu Serif', serif" font-size="33" fill="#000" style="font-style:italic;">ρ</text>
<text transform="translate(1416.30,93.56) scale(0.9500,1.2222)" font-family="'WenQuanYi Zen Hei', 'DejaVu Math TeX Gyre', sans-serif" font-size="32" fill="#000" style="">〉</text>
<text transform="translate(1068.30,37.07) scale(1.0467,0.9609)" font-family="'Liberation Serif', 'DejaVu Serif', serif" font-size="33" fill="#555" style="font-style:italic;">g</text>
<text transform="translate(1085.70,36.53) scale(1.0000,0.9667)" font-family="'Liberation Serif', 'DejaVu Serif', serif" font-size="33" fill="#555" style="">(</text>
<text transform="translate(1096.80,37.20) scale(1.1000,0.9435)" font-family="'Liberation Serif', 'DejaVu Serif', serif" font-size="33" fill="#555" style="font-style:italic;" stroke="#fff" stroke-width="0.25">μ</text>
<text transform="translate(1114.50,36.53) scale(1.0000,0.9667)" font-family="'Liberation Serif', 'DejaVu Serif', serif" font-size="33" fill="#555" style="">)</text>
<text transform="translate(1134.17,40.08) scale(1.3133,1.0111)" font-family="'Liberation Serif', 'DejaVu Serif', serif" font-size="33" fill="#555" style="">=</text>
<text transform="translate(1166.10,37.20) scale(1.1733,0.9435)" font-family="'Liberation Serif', 'DejaVu Serif', serif" font-size="33" fill="#555" style="font-style:italic;" stroke="#fff" stroke-width="0.25">μ</text>
<text transform="translate(1185.21,26.00) scale(1.1889,1.1071)" font-family="'Liberation Serif', 'DejaVu Serif', serif" font-size="22" fill="#555" style="">2</text>
<text transform="translate(1223.20,480.97) scale(1.0400,0.9609)" font-family="'Liberation Serif', 'DejaVu Serif', serif" font-size="33" fill="#555" style="font-style:italic;">g</text>
<text transform="translate(1239.99,480.51) scale(1.0111,0.9700)" font-family="'Liberation Serif', 'DejaVu Serif', serif" font-size="33" fill="#555" style="">(</text>
<text transform="translate(1251.40,481.10) scale(1.1000,0.9435)" font-family="'Liberation Serif', 'DejaVu Serif', serif" font-size="33" fill="#555" style="font-style:italic;" stroke="#fff" stroke-width="0.25">μ</text>
<text transform="translate(1269.49,480.51) scale(1.0111,0.9700)" font-family="'Liberation Serif', 'DejaVu Serif', serif" font-size="33" fill="#555" style="">)</text>
<text transform="translate(1288.67,483.98) scale(1.3133,1.0111)" font-family="'Liberation Serif', 'DejaVu Serif', serif" font-size="33" fill="#555" style="">=</text>
<text transform="translate(1320.70,481.10) scale(1.1267,0.9435)" font-family="'Liberation Serif', 'DejaVu Serif', serif" font-size="33" fill="#555" style="font-style:italic;" stroke="#fff" stroke-width="0.25">μ</text>
<text transform="translate(1228.55,392.80) scale(1.1500,0.9853)" font-family="'Liberation Serif', 'DejaVu Serif', serif" font-size="48" fill="#000" style="font-style:italic;">λ</text>
<text transform="translate(978.48,328.00) scale(1.1226,1.0778)" font-family="'Liberation Serif', 'DejaVu Serif', serif" font-size="27" fill="#000" style="">0.2</text>
<text transform="translate(981.27,755.00) scale(1.1110,1.0667)" font-family="'Liberation Serif', 'DejaVu Serif', serif" font-size="27" fill="#000" style="">0.2</text>
<text transform="translate(1097.37,328.00) scale(1.1226,1.0778)" font-family="'Liberation Serif', 'DejaVu Serif', serif" font-size="27" fill="#000" style="">0.4</text>
<text transform="translate(1100.79,755.00) scale(1.1110,1.0667)" font-family="'Liberation Serif', 'DejaVu Serif', serif" font-size="27" fill="#000" style="">0.4</text>
<text transform="translate(1216.82,328.00) scale(1.1226,1.0778)" font-family="'Liberation Serif', 'DejaVu Serif', serif" font-size="27" fill="#000" style="">0.6</text>
<text transform="translate(1220.87,755.00) scale(1.1110,1.0667)" font-family="'Liberation Serif', 'DejaVu Serif', serif" font-size="27" fill="#000" style="">0.6</text>
<text transform="translate(1336.27,328.00) scale(1.1226,1.0778)" font-family="'Liberation Serif', 'DejaVu Serif', serif" font-size="27" fill="#000" style="">0.8</text>
<text transform="translate(1340.95,755.00) scale(1.1110,1.0667)" font-family="'Liberation Serif', 'DejaVu Serif', serif" font-size="27" fill="#000" style="">0.8</text>
<text transform="translate(1454.59,328.00) scale(1.1226,1.0778)" font-family="'Liberation Serif', 'DejaVu Serif', serif" font-size="27" fill="#000" style="">1.0</text>
<text transform="translate(1459.92,755.00) scale(1.1110,1.0667)" font-family="'Liberation Serif', 'DejaVu Serif', serif" font-size="27" fill="#000" style="">1.0</text>
<text transform="translate(941.13,297.05) scale(1.0667,1.0500)" font-family="'Liberation Serif', 'DejaVu Serif', serif" font-size="27" fill="#000" style="">1.05</text>
<text transform="translate(943.63,723.35) scale(1.0667,1.0500)" font-family="'Liberation Serif', 'DejaVu Serif', serif" font-size="27" fill="#000" style="">1.05</text>
<text transform="translate(941.13,249.19) scale(1.0667,1.0500)" font-family="'Liberation Serif', 'DejaVu Serif', serif" font-size="27" fill="#000" style="">1.25</text>
<text transform="translate(943.63,675.29) scale(1.0667,1.0500)" font-family="'Liberation Serif', 'DejaVu Serif', serif" font-size="27" fill="#000" style="">1.25</text>
<text transform="translate(941.13,201.33) scale(1.0667,1.0500)" font-family="'Liberation Serif', 'DejaVu Serif', serif" font-size="27" fill="#000" style="">1.45</text>
<text transform="translate(943.63,627.23) scale(1.0667,1.0500)" font-family="'Liberation Serif', 'DejaVu Serif', serif" font-size="27" fill="#000" style="">1.45</text>
<text transform="translate(941.13,153.47) scale(1.0667,1.0500)" font-family="'Liberation Serif', 'DejaVu Serif', serif" font-size="27" fill="#000" style="">1.65</text>
<text transform="translate(943.63,579.17) scale(1.0667,1.0500)" font-family="'Liberation Serif', 'DejaVu Serif', serif" font-size="27" fill="#000" style="">1.65</text>
<text transform="translate(941.13,105.61) scale(1.0667,1.0500)" font-family="'Liberation Serif', 'DejaVu Serif', serif" font-size="27" fill="#000" style="">1.85</text>
<text transform="translate(943.63,531.11) scale(1.0667,1.0500)" font-family="'Liberation Serif', 'DejaVu Serif', serif" font-size="27" fill="#000" style="">1.85</text>
<text transform="translate(941.13,57.75) scale(1.0667,1.0500)" font-family="'Liberation Serif', 'DejaVu Serif', serif" font-size="27" fill="#000" style="">2.05</text>
<text transform="translate(943.63,483.05) scale(1.0667,1.0500)" font-family="'Liberation Serif', 'DejaVu Serif', serif" font-size="27" fill="#000" style="">2.05</text>
</svg>
</body></html>
